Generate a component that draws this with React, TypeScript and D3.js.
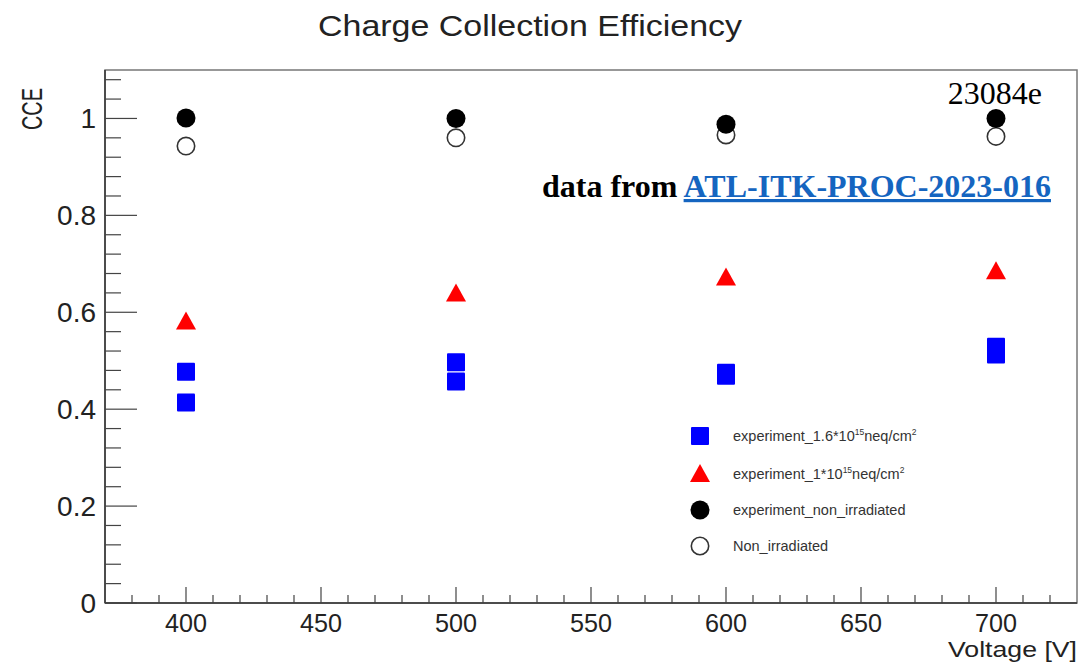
import React from "react";
import * as d3 from "d3";

const voltages = [400, 500, 600, 700];
const expHighFluenceA = [0.477, 0.497, 0.475, 0.529];
const expHighFluenceB = [0.414, 0.457, 0.469, 0.513];
const expLowFluence = [0.581, 0.639, 0.672, 0.685];
const expNonIrradiated = [1.001, 1.0, 0.988, 1.0];
const simNonIrradiated = [0.943, 0.96, 0.966, 0.963];

const xMajorTicks = [400, 450, 500, 550, 600, 650, 700];
const yMajorTicks = [0, 0.2, 0.4, 0.6, 0.8, 1];

const W = 1089;
const H = 664;
const left = 105;
const right = 1077;
const top = 70;
const bottom = 603;

const FONT = "'Liberation Sans', Arial, sans-serif";
const SERIF = "'Liberation Serif', 'Times New Roman', serif";

export default function App() {
  const x = d3.scaleLinear().domain([370, 730]).range([left, right]);
  const y = d3.scaleLinear().domain([0, 1.1]).range([bottom, top]);

  const xMinor = d3.range(380, 730, 10).filter((v) => v % 50 !== 0);
  const yMinor = d3.range(0, 1.1, 0.04).filter((v) => Math.abs(v / 0.2 - Math.round(v / 0.2)) > 1e-6);

  const sq = 18;
  const rc = 9.5;
  const tri = (cx: number, cy: number, s = 20) => {
    const h = s * 0.9;
    return `M${cx},${cy - h * 0.55} L${cx + s / 2},${cy + h * 0.45} L${cx - s / 2},${cy + h * 0.45} Z`;
  };

  const legendX = 700;
  const legendTextX = 733;
  const legendRows = [436, 474, 510, 546];
  const lfs = 14.5;

  return (
    <svg width={W} height={H} style={{ position: "absolute", left: 0, top: 0, background: "#fff" }}>
      <rect x={0} y={0} width={W} height={H} fill="#fff" />
      {/* title */}
      <text x={530} y={36} textAnchor="middle" fontFamily={FONT} fontSize={30} textLength={424} lengthAdjust="spacingAndGlyphs" fill="#222">
        Charge Collection Efficiency
      </text>

      {/* frame */}
      <rect x={left} y={top} width={right - left} height={bottom - top} fill="none" stroke="#777" strokeWidth={1.5} />
      <line x1={left} x2={left} y1={top} y2={bottom} stroke="#333" strokeWidth={1.5} />
      <line x1={left} x2={right} y1={bottom} y2={bottom} stroke="#333" strokeWidth={1.5} />

      {/* y ticks */}
      {yMajorTicks.map((v) => (
        <g key={"ym" + v}>
          <line x1={left} x2={left + 32} y1={y(v)} y2={y(v)} stroke="#444" strokeWidth={1.2} />
          <text x={96} y={y(v) + 10} textAnchor="end" fontFamily={FONT} fontSize={28} fill="#222">
            {String(v)}
          </text>
        </g>
      ))}
      {yMinor.map((v) => (
        <line key={"yn" + v} x1={left} x2={left + 16} y1={y(v)} y2={y(v)} stroke="#444" strokeWidth={1.2} />
      ))}

      {/* x ticks */}
      {xMajorTicks.map((v) => (
        <g key={"xm" + v}>
          <line x1={x(v)} x2={x(v)} y1={bottom} y2={bottom - 16} stroke="#444" strokeWidth={1.2} />
          <text x={x(v)} y={632} textAnchor="middle" fontFamily={FONT} fontSize={25} textLength={42} lengthAdjust="spacingAndGlyphs" fill="#222">
            {v}
          </text>
        </g>
      ))}
      {xMinor.map((v) => (
        <line key={"xn" + v} x1={x(v)} x2={x(v)} y1={bottom} y2={bottom - 8} stroke="#444" strokeWidth={1.2} />
      ))}

      {/* axis titles */}
      <text x={right} y={657} textAnchor="end" fontFamily={FONT} fontSize={22} textLength={129} lengthAdjust="spacingAndGlyphs" fill="#222">
        Voltage [V]
      </text>
      <text transform={`translate(42,88) rotate(-90)`} textAnchor="end" fontFamily={FONT} fontSize={29} textLength={42} lengthAdjust="spacingAndGlyphs" fill="#222">
        CCE
      </text>

      {/* annotations */}
      <text x={1042} y={104} textAnchor="end" fontFamily={SERIF} fontSize={32} fill="#000">
        23084e
      </text>
      <text x={1051} y={197} textAnchor="end" fontFamily={SERIF} fontSize={32} fontWeight="bold" fill="#000">
        data from{" "}
        <tspan fill="#1565c0" textDecoration="underline">
          ATL-ITK-PROC-2023-016
        </tspan>
      </text>

      {/* data: blue squares */}
      {voltages.map((v, i) => (
        <g key={"b" + v}>
          <rect x={x(v) - sq / 2} y={y(expHighFluenceA[i]) - sq / 2} width={sq} height={sq} rx={1} fill="#0000ff" />
          <rect x={x(v) - sq / 2} y={y(expHighFluenceB[i]) - sq / 2} width={sq} height={sq} rx={1} fill="#0000ff" />
        </g>
      ))}
      {/* red triangles */}
      {voltages.map((v, i) => (
        <path key={"r" + v} d={tri(x(v), y(expLowFluence[i]))} fill="#ff0000" />
      ))}
      {/* open circles */}
      {voltages.map((v, i) => (
        <circle key={"o" + v} cx={x(v)} cy={y(simNonIrradiated[i])} r={rc - 0.8} fill="none" stroke="#333" strokeWidth={1.6} />
      ))}
      {/* filled circles */}
      {voltages.map((v, i) => (
        <circle key={"k" + v} cx={x(v)} cy={y(expNonIrradiated[i])} r={rc} fill="#000" />
      ))}

      {/* legend */}
      <rect x={legendX - sq / 2} y={legendRows[0] - sq / 2} width={sq} height={sq} rx={1} fill="#0000ff" />
      <path d={tri(legendX, legendRows[1])} fill="#ff0000" />
      <circle cx={legendX} cy={legendRows[2]} r={rc} fill="#000" />
      <circle cx={legendX} cy={legendRows[3]} r={rc - 0.8} fill="none" stroke="#333" strokeWidth={1.6} />
      <text x={legendTextX} y={legendRows[0] + 5} fontFamily={FONT} fontSize={lfs} fill="#333">
        experiment_1.6*10<tspan fontSize={8.5} dy={-6}>15</tspan>
        <tspan dy={6}>neq/cm</tspan>
        <tspan fontSize={8.5} dy={-6}>2</tspan>
      </text>
      <text x={legendTextX} y={legendRows[1] + 5} fontFamily={FONT} fontSize={lfs} fill="#333">
        experiment_1*10<tspan fontSize={8.5} dy={-6}>15</tspan>
        <tspan dy={6}>neq/cm</tspan>
        <tspan fontSize={8.5} dy={-6}>2</tspan>
      </text>
      <text x={legendTextX} y={legendRows[2] + 5} fontFamily={FONT} fontSize={lfs} fill="#333">
        experiment_non_irradiated
      </text>
      <text x={legendTextX} y={legendRows[3] + 5} fontFamily={FONT} fontSize={lfs} fill="#333">
        Non_irradiated
      </text>
    </svg>
  );
}
